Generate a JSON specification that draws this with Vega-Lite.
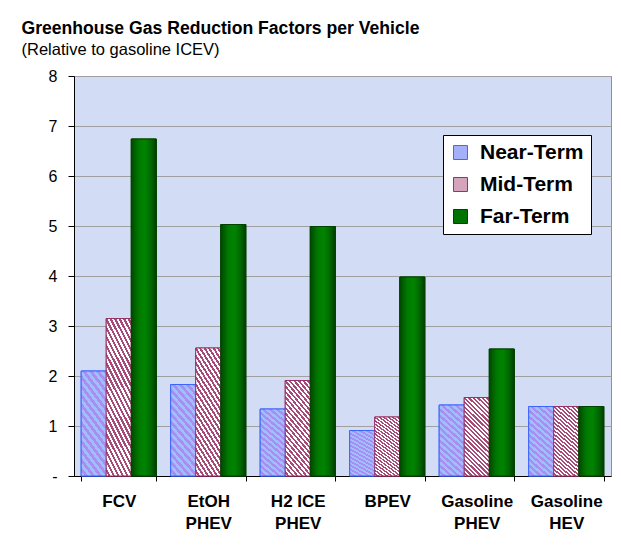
{
  "$schema": "https://vega.github.io/schema/vega-lite/v6.json",
  "autosize": "none",
  "width": 537,
  "height": 400,
  "padding": {"left": 74, "top": 76, "right": 10, "bottom": 74},
  "background": "white",
  "title": {
    "text": "Greenhouse Gas Reduction Factors per Vehicle",
    "subtitle": "(Relative to gasoline ICEV)",
    "anchor": "start",
    "frame": "group",
    "dx": -52.5,
    "offset": 10,
    "font": "Liberation Sans",
    "fontSize": 17.6,
    "fontWeight": "bold",
    "color": "black",
    "subtitleFont": "Liberation Sans",
    "subtitleFontSize": 16.5,
    "subtitleColor": "black",
    "subtitlePadding": 4
  },
  "config": {
    "view": {"fill": "#d3dcf5", "stroke": "#909090", "strokeWidth": 1}
  },
  "data": {
    "values": [
      {"vehicle": "FCV", "term": "Near-Term", "value": 2.10},
      {"vehicle": "FCV", "term": "Mid-Term", "value": 3.15},
      {"vehicle": "FCV", "term": "Far-Term", "value": 6.74},
      {"vehicle": "EtOH|PHEV", "term": "Near-Term", "value": 1.83},
      {"vehicle": "EtOH|PHEV", "term": "Mid-Term", "value": 2.56},
      {"vehicle": "EtOH|PHEV", "term": "Far-Term", "value": 5.03},
      {"vehicle": "H2 ICE|PHEV", "term": "Near-Term", "value": 1.34},
      {"vehicle": "H2 ICE|PHEV", "term": "Mid-Term", "value": 1.91},
      {"vehicle": "H2 ICE|PHEV", "term": "Far-Term", "value": 4.99},
      {"vehicle": "BPEV", "term": "Near-Term", "value": 0.91},
      {"vehicle": "BPEV", "term": "Mid-Term", "value": 1.18},
      {"vehicle": "BPEV", "term": "Far-Term", "value": 3.98},
      {"vehicle": "Gasoline|PHEV", "term": "Near-Term", "value": 1.42},
      {"vehicle": "Gasoline|PHEV", "term": "Mid-Term", "value": 1.57},
      {"vehicle": "Gasoline|PHEV", "term": "Far-Term", "value": 2.54},
      {"vehicle": "Gasoline|HEV", "term": "Near-Term", "value": 1.39},
      {"vehicle": "Gasoline|HEV", "term": "Mid-Term", "value": 1.39},
      {"vehicle": "Gasoline|HEV", "term": "Far-Term", "value": 1.39}
    ]
  },
  "encoding": {
    "x": {
      "field": "vehicle",
      "type": "nominal",
      "sort": ["FCV", "EtOH|PHEV", "H2 ICE|PHEV", "BPEV", "Gasoline|PHEV", "Gasoline|HEV"],
      "scale": {"paddingInner": 0.16, "paddingOuter": 0.08},
      "axis": {
        "title": null,
        "labelExpr": "split(datum.label, '|')",
        "labelAngle": 0,
        "labelFont": "Liberation Sans",
        "labelFontSize": 17,
        "labelFontWeight": "bold",
        "labelColor": "black",
        "labelLineHeight": 22,
        "labelPadding": 12,
        "labelBaseline": "top",
        "tickBand": "extent",
        "tickSize": 5,
        "tickColor": "black",
        "domainColor": "black",
        "grid": false
      }
    },
    "xOffset": {
      "field": "term",
      "type": "nominal",
      "sort": ["Near-Term", "Mid-Term", "Far-Term"],
      "scale": {"domain": ["Near-Term", "Mid-Term", "Far-Term"]}
    },
    "y": {
      "field": "value",
      "type": "quantitative",
      "scale": {"domain": [0, 8], "nice": false},
      "axis": {
        "title": null,
        "values": [0, 1, 2, 3, 4, 5, 6, 7, 8],
        "labelExpr": "datum.value == 0 ? '-\u00a0\u00a0\u00a0\u00a0\u00a0' : datum.label",
        "labelFont": "Liberation Sans",
        "labelFontSize": 16,
        "labelColor": "black",
        "labelPadding": 11,
        "tickSize": 6,
        "tickColor": "black",
        "domainColor": "black",
        "gridColor": "#a0a0a0",
        "gridOpacity": 1
      }
    }
  },
  "layer": [
    {
      "mark": {"type": "bar", "strokeWidth": 1},
      "encoding": {
        "color": {
          "field": "term",
          "type": "nominal",
          "scale": {"domain": ["Near-Term", "Mid-Term", "Far-Term"], "range": ["#a4b0fa", "#d6a3bc", "#007400"]},
          "legend": {
            "title": null,
            "orient": "none",
            "legendX": 369,
            "legendY": 59,
            "fillColor": "white",
            "strokeColor": "black",
            "padding": 7,
            "symbolType": "square",
            "symbolSize": 196,
            "symbolStrokeWidth": 1,
            "labelFont": "Liberation Sans",
            "labelFontSize": 21,
            "labelFontWeight": "bold",
            "labelColor": "black",
            "labelOffset": 9,
            "rowPadding": 10
          }
        },
        "stroke": {
          "field": "term",
          "type": "nominal",
          "scale": {"domain": ["Near-Term", "Mid-Term", "Far-Term"], "range": ["#4466ff", "#993366", "#004400"]}
        }
      }
    },
    {
      "transform": [{"filter": "datum.term == 'Near-Term'"}],
      "mark": {
        "type": "bar",
        "stroke": "#3c64ff",
        "strokeWidth": 1,
        "color": {
          "gradient": "linear",
          "x1": 0, "y1": 1, "x2": 1, "y2": -2.2,
          "stops": [
            {"offset": 0, "color": "#9fbfff"}, {"offset": 0.0125, "color": "#9fbfff"}, {"offset": 0.0125, "color": "#a88ef0"}, {"offset": 0.025, "color": "#a88ef0"},
            {"offset": 0.025, "color": "#9fbfff"}, {"offset": 0.0375, "color": "#9fbfff"}, {"offset": 0.0375, "color": "#a88ef0"}, {"offset": 0.05, "color": "#a88ef0"},
            {"offset": 0.05, "color": "#9fbfff"}, {"offset": 0.0625, "color": "#9fbfff"}, {"offset": 0.0625, "color": "#a88ef0"}, {"offset": 0.075, "color": "#a88ef0"},
            {"offset": 0.075, "color": "#9fbfff"}, {"offset": 0.0875, "color": "#9fbfff"}, {"offset": 0.0875, "color": "#a88ef0"}, {"offset": 0.1, "color": "#a88ef0"},
            {"offset": 0.1, "color": "#9fbfff"}, {"offset": 0.1125, "color": "#9fbfff"}, {"offset": 0.1125, "color": "#a88ef0"}, {"offset": 0.125, "color": "#a88ef0"},
            {"offset": 0.125, "color": "#9fbfff"}, {"offset": 0.1375, "color": "#9fbfff"}, {"offset": 0.1375, "color": "#a88ef0"}, {"offset": 0.15, "color": "#a88ef0"},
            {"offset": 0.15, "color": "#9fbfff"}, {"offset": 0.1625, "color": "#9fbfff"}, {"offset": 0.1625, "color": "#a88ef0"}, {"offset": 0.175, "color": "#a88ef0"},
            {"offset": 0.175, "color": "#9fbfff"}, {"offset": 0.1875, "color": "#9fbfff"}, {"offset": 0.1875, "color": "#a88ef0"}, {"offset": 0.2, "color": "#a88ef0"},
            {"offset": 0.2, "color": "#9fbfff"}, {"offset": 0.2125, "color": "#9fbfff"}, {"offset": 0.2125, "color": "#a88ef0"}, {"offset": 0.225, "color": "#a88ef0"},
            {"offset": 0.225, "color": "#9fbfff"}, {"offset": 0.2375, "color": "#9fbfff"}, {"offset": 0.2375, "color": "#a88ef0"}, {"offset": 0.25, "color": "#a88ef0"},
            {"offset": 0.25, "color": "#9fbfff"}, {"offset": 0.2625, "color": "#9fbfff"}, {"offset": 0.2625, "color": "#a88ef0"}, {"offset": 0.275, "color": "#a88ef0"},
            {"offset": 0.275, "color": "#9fbfff"}, {"offset": 0.2875, "color": "#9fbfff"}, {"offset": 0.2875, "color": "#a88ef0"}, {"offset": 0.3, "color": "#a88ef0"},
            {"offset": 0.3, "color": "#9fbfff"}, {"offset": 0.3125, "color": "#9fbfff"}, {"offset": 0.3125, "color": "#a88ef0"}, {"offset": 0.325, "color": "#a88ef0"},
            {"offset": 0.325, "color": "#9fbfff"}, {"offset": 0.3375, "color": "#9fbfff"}, {"offset": 0.3375, "color": "#a88ef0"}, {"offset": 0.35, "color": "#a88ef0"},
            {"offset": 0.35, "color": "#9fbfff"}, {"offset": 0.3625, "color": "#9fbfff"}, {"offset": 0.3625, "color": "#a88ef0"}, {"offset": 0.375, "color": "#a88ef0"},
            {"offset": 0.375, "color": "#9fbfff"}, {"offset": 0.3875, "color": "#9fbfff"}, {"offset": 0.3875, "color": "#a88ef0"}, {"offset": 0.4, "color": "#a88ef0"},
            {"offset": 0.4, "color": "#9fbfff"}, {"offset": 1, "color": "#9fbfff"}
          ]
        }
      }
    },
    {
      "transform": [{"filter": "datum.term == 'Mid-Term'"}],
      "mark": {
        "type": "bar",
        "stroke": "#993366",
        "strokeWidth": 1,
        "color": {
          "gradient": "linear",
          "x1": 0, "y1": 1, "x2": 1, "y2": -2.2,
          "stops": [
            {"offset": 0, "color": "#ffffff"}, {"offset": 0.008, "color": "#ffffff"}, {"offset": 0.008, "color": "#a84a78"}, {"offset": 0.016, "color": "#a84a78"},
            {"offset": 0.016, "color": "#ffffff"}, {"offset": 0.024, "color": "#ffffff"}, {"offset": 0.024, "color": "#a84a78"}, {"offset": 0.032, "color": "#a84a78"},
            {"offset": 0.032, "color": "#ffffff"}, {"offset": 0.04, "color": "#ffffff"}, {"offset": 0.04, "color": "#a84a78"}, {"offset": 0.048, "color": "#a84a78"},
            {"offset": 0.048, "color": "#ffffff"}, {"offset": 0.056, "color": "#ffffff"}, {"offset": 0.056, "color": "#a84a78"}, {"offset": 0.064, "color": "#a84a78"},
            {"offset": 0.064, "color": "#ffffff"}, {"offset": 0.072, "color": "#ffffff"}, {"offset": 0.072, "color": "#a84a78"}, {"offset": 0.08, "color": "#a84a78"},
            {"offset": 0.08, "color": "#ffffff"}, {"offset": 0.088, "color": "#ffffff"}, {"offset": 0.088, "color": "#a84a78"}, {"offset": 0.096, "color": "#a84a78"},
            {"offset": 0.096, "color": "#ffffff"}, {"offset": 0.104, "color": "#ffffff"}, {"offset": 0.104, "color": "#a84a78"}, {"offset": 0.112, "color": "#a84a78"},
            {"offset": 0.112, "color": "#ffffff"}, {"offset": 0.12, "color": "#ffffff"}, {"offset": 0.12, "color": "#a84a78"}, {"offset": 0.128, "color": "#a84a78"},
            {"offset": 0.128, "color": "#ffffff"}, {"offset": 0.136, "color": "#ffffff"}, {"offset": 0.136, "color": "#a84a78"}, {"offset": 0.144, "color": "#a84a78"},
            {"offset": 0.144, "color": "#ffffff"}, {"offset": 0.152, "color": "#ffffff"}, {"offset": 0.152, "color": "#a84a78"}, {"offset": 0.16, "color": "#a84a78"},
            {"offset": 0.16, "color": "#ffffff"}, {"offset": 0.168, "color": "#ffffff"}, {"offset": 0.168, "color": "#a84a78"}, {"offset": 0.176, "color": "#a84a78"},
            {"offset": 0.176, "color": "#ffffff"}, {"offset": 0.184, "color": "#ffffff"}, {"offset": 0.184, "color": "#a84a78"}, {"offset": 0.192, "color": "#a84a78"},
            {"offset": 0.192, "color": "#ffffff"}, {"offset": 0.2, "color": "#ffffff"}, {"offset": 0.2, "color": "#a84a78"}, {"offset": 0.208, "color": "#a84a78"},
            {"offset": 0.208, "color": "#ffffff"}, {"offset": 0.216, "color": "#ffffff"}, {"offset": 0.216, "color": "#a84a78"}, {"offset": 0.224, "color": "#a84a78"},
            {"offset": 0.224, "color": "#ffffff"}, {"offset": 0.232, "color": "#ffffff"}, {"offset": 0.232, "color": "#a84a78"}, {"offset": 0.24, "color": "#a84a78"},
            {"offset": 0.24, "color": "#ffffff"}, {"offset": 0.248, "color": "#ffffff"}, {"offset": 0.248, "color": "#a84a78"}, {"offset": 0.256, "color": "#a84a78"},
            {"offset": 0.256, "color": "#ffffff"}, {"offset": 0.264, "color": "#ffffff"}, {"offset": 0.264, "color": "#a84a78"}, {"offset": 0.272, "color": "#a84a78"},
            {"offset": 0.272, "color": "#ffffff"}, {"offset": 0.28, "color": "#ffffff"}, {"offset": 0.28, "color": "#a84a78"}, {"offset": 0.288, "color": "#a84a78"},
            {"offset": 0.288, "color": "#ffffff"}, {"offset": 0.296, "color": "#ffffff"}, {"offset": 0.296, "color": "#a84a78"}, {"offset": 0.304, "color": "#a84a78"},
            {"offset": 0.304, "color": "#ffffff"}, {"offset": 0.312, "color": "#ffffff"}, {"offset": 0.312, "color": "#a84a78"}, {"offset": 0.32, "color": "#a84a78"},
            {"offset": 0.32, "color": "#ffffff"}, {"offset": 0.328, "color": "#ffffff"}, {"offset": 0.328, "color": "#a84a78"}, {"offset": 0.336, "color": "#a84a78"},
            {"offset": 0.336, "color": "#ffffff"}, {"offset": 0.344, "color": "#ffffff"}, {"offset": 0.344, "color": "#a84a78"}, {"offset": 0.352, "color": "#a84a78"},
            {"offset": 0.352, "color": "#ffffff"}, {"offset": 0.36, "color": "#ffffff"}, {"offset": 0.36, "color": "#a84a78"}, {"offset": 0.368, "color": "#a84a78"},
            {"offset": 0.368, "color": "#ffffff"}, {"offset": 0.376, "color": "#ffffff"}, {"offset": 0.376, "color": "#a84a78"}, {"offset": 0.384, "color": "#a84a78"},
            {"offset": 0.384, "color": "#ffffff"}, {"offset": 0.392, "color": "#ffffff"}, {"offset": 0.392, "color": "#a84a78"}, {"offset": 0.4, "color": "#a84a78"},
            {"offset": 0.4, "color": "#ffffff"}, {"offset": 1, "color": "#ffffff"}
          ]
        }
      }
    },
    {
      "transform": [{"filter": "datum.term == 'Far-Term'"}],
      "mark": {
        "type": "bar",
        "stroke": "#004400",
        "strokeWidth": 1,
        "color": {
          "gradient": "linear",
          "x1": 0, "y1": 0, "x2": 1, "y2": 0,
          "stops": [
            {"offset": 0, "color": "#004800"},
            {"offset": 0.3, "color": "#007a00"},
            {"offset": 0.55, "color": "#008400"},
            {"offset": 0.8, "color": "#006600"},
            {"offset": 1, "color": "#003c00"}
          ]
        }
      }
    }
  ]
}
